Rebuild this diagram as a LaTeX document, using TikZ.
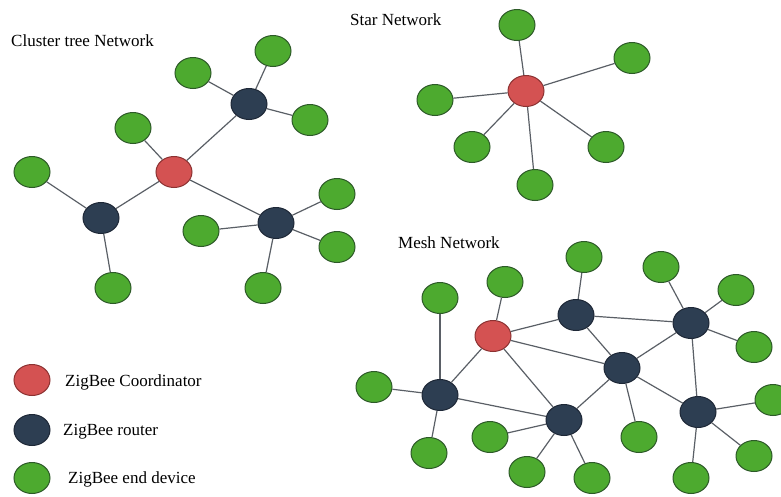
\documentclass[tikz,border=0pt]{standalone}
\usepackage{fontspec}
\setmainfont{Liberation Serif}
\usetikzlibrary{shapes.geometric}
\definecolor{zbred}{RGB}{212,82,82}
\definecolor{zbredline}{RGB}{140,50,50}
\definecolor{zbnavy}{RGB}{45,62,82}
\definecolor{zbnavyline}{RGB}{30,40,55}
\definecolor{zbgreen}{RGB}{77,170,47}
\definecolor{zbgreenline}{RGB}{45,90,40}
\definecolor{zblink}{RGB}{90,95,102}

\begin{document}
\begin{tikzpicture}[x=1pt,y=-1pt,
  dev/.style={ellipse,minimum width=36pt,minimum height=31pt,inner sep=0pt,line width=1pt},
  coordnode/.style={dev,fill=zbred,draw=zbredline},
  routernode/.style={dev,fill=zbnavy,draw=zbnavyline},
  endnode/.style={dev,fill=zbgreen,draw=zbgreenline},
  link/.style={draw=zblink,line width=1.2pt},
  title/.style={anchor=base west,inner sep=0pt,font=\fontsize{17}{20}\selectfont}]
 \useasboundingbox (0,0) rectangle (781,496);

 % cluster tree
 \node[title] (cttitle) at (11,46) {Cluster tree Network};
 \node[coordnode] (ctc) at (174,172) {};
 \node[routernode] (ctr1) at (249,104) {};
 \node[routernode] (ctr2) at (101,218) {};
 \node[routernode] (ctr3) at (276,223) {};
 \node[endnode] (cte1) at (193,73) {};
 \node[endnode] (cte2) at (273,51) {};
 \node[endnode] (cte3) at (310,120) {};
 \node[endnode] (cte4) at (133,128) {};
 \node[endnode] (cte5) at (32,172) {};
 \node[endnode] (cte6) at (113,288) {};
 \node[endnode] (cte7) at (201,231) {};
 \node[endnode] (cte8) at (337,194) {};
 \node[endnode] (cte9) at (337,247) {};
 \node[endnode] (cte10) at (263,288) {};
 \foreach \a/\b in {ctc/cte4,ctc/ctr1,ctc/ctr2,ctc/ctr3,ctr1/cte1,ctr1/cte2,ctr1/cte3,
   ctr2/cte5,ctr2/cte6,ctr3/cte7,ctr3/cte8,ctr3/cte9,ctr3/cte10}
   \draw[link] (\a) -- (\b);

 % star
 \node[title] (sttitle) at (350,25) {Star Network};
 \node[coordnode] (stc) at (526,91) {};
 \node[endnode] (ste1) at (517,25) {};
 \node[endnode] (ste2) at (632,58) {};
 \node[endnode] (ste3) at (435,100) {};
 \node[endnode] (ste4) at (472,147) {};
 \node[endnode] (ste5) at (535,185) {};
 \node[endnode] (ste6) at (606,147) {};
 \foreach \b in {ste1,ste2,ste3,ste4,ste5,ste6}
   \draw[link] (stc) -- (\b);

 % mesh
 \node[title] (mstitle) at (398,248) {Mesh Network};
 \node[coordnode] (msc) at (493,336) {};
 \node[routernode] (msr1) at (576,315) {};
 \node[routernode] (msr2) at (691,323) {};
 \node[routernode] (msr3) at (622,368) {};
 \node[routernode] (msr4) at (440,395) {};
 \node[routernode] (msr5) at (564,420) {};
 \node[routernode] (msr6) at (698,412) {};
 \node[endnode] (mse1) at (440,298) {};
 \node[endnode] (mse2) at (505,282) {};
 \node[endnode] (mse3) at (584,257) {};
 \node[endnode] (mse4) at (661,267) {};
 \node[endnode] (mse5) at (736,290) {};
 \node[endnode] (mse6) at (754,347) {};
 \node[endnode] (mse7) at (374,387) {};
 \node[endnode] (mse8) at (773,400) {};
 \node[endnode] (mse9) at (490,437) {};
 \node[endnode] (mse10) at (639,437) {};
 \node[endnode] (mse11) at (429,453) {};
 \node[endnode] (mse12) at (527,472) {};
 \node[endnode] (mse13) at (592,478) {};
 \node[endnode] (mse14) at (754,456) {};
 \node[endnode] (mse15) at (691,478) {};
 \foreach \a/\b in {msc/mse2,msc/msr1,msc/msr3,msc/msr4,msc/msr5,
   msr1/mse3,msr1/msr2,msr1/msr3,
   msr2/mse4,msr2/mse5,msr2/mse6,msr2/msr3,msr2/msr6,
   msr3/mse10,msr3/msr5,msr3/msr6,
   msr4/mse1,msr4/mse7,msr4/mse11,msr4/msr5,
   msr5/mse9,msr5/mse12,msr5/mse13,
   msr6/mse8,msr6/mse14,msr6/mse15}
   \draw[link] (\a) -- (\b);

 % legend
 \node[coordnode] (lgc) at (32,380) {};
 \node[routernode] (lgr) at (32,430) {};
 \node[endnode] (lge) at (32,478) {};
 \node[title] (lgctext) at (65,386) {ZigBee Coordinator};
 \node[title] (lgrtext) at (63,435) {ZigBee router};
 \node[title] (lgetext) at (68,483) {ZigBee end device};
\end{tikzpicture}
\end{document}
